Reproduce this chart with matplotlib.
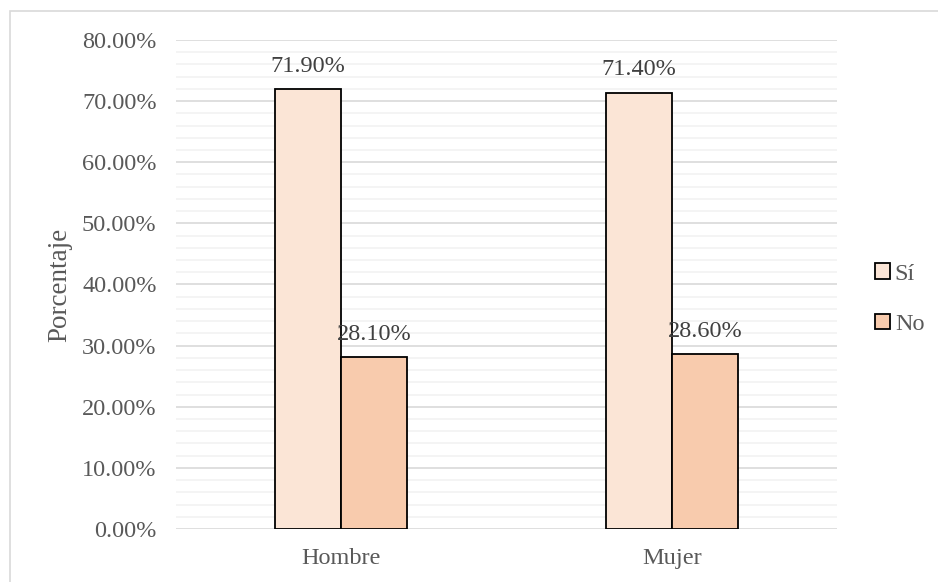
import matplotlib.pyplot as plt
from matplotlib.patches import Rectangle
from matplotlib.ticker import MultipleLocator, FuncFormatter

plt.rcParams['font.family'] = ['Liberation Serif', 'DejaVu Serif']

grupos = ['Hombre', 'Mujer']
series = ['Sí', 'No']
si_vals = [71.9, 71.4]
no_vals = [28.1, 28.6]
colores = ['#FBE5D6', '#F8CBAD']

fig = plt.figure(figsize=(9.38, 5.82), dpi=100)
ax = fig.add_axes([0.1876, 0.0911, 0.7047, 0.8402])

# marco exterior del gráfico
fig.patches.append(Rectangle((10 / 938, -0.05), 1.0, 1 - 11 / 582 + 0.05,
                             transform=fig.transFigure, fill=False,
                             edgecolor='#D9D9D9', linewidth=1.2))

ancho = 0.2
x = range(len(grupos))
b1 = ax.bar([i - ancho / 2 for i in x], si_vals, ancho, color=colores[0],
            edgecolor='black', linewidth=1.3, label=series[0], zorder=3)
b2 = ax.bar([i + ancho / 2 for i in x], no_vals, ancho, color=colores[1],
            edgecolor='black', linewidth=1.3, label=series[1], zorder=3)

for barras in (b1, b2):
    for r in barras:
        h = r.get_height()
        ax.annotate(f'{h:.2f}%', (r.get_x() + r.get_width() / 2, h),
                    xytext=(0, 9), textcoords='offset points',
                    ha='center', va='bottom', fontsize=17.5, color='#404040')

ax.set_xlim(-0.5, 1.5)
ax.set_ylim(0, 80)
ax.set_xticks(list(x))
ax.set_xticklabels(grupos)
ax.yaxis.set_major_locator(MultipleLocator(10))
ax.yaxis.set_minor_locator(MultipleLocator(2))
ax.yaxis.set_major_formatter(FuncFormatter(lambda v, p: f'{v:.2f}%'))
ax.grid(axis='y', which='major', color='#D9D9D9', linewidth=1.2, zorder=0)
ax.grid(axis='y', which='minor', color='#F2F2F2', linewidth=1.2, zorder=0)
ax.tick_params(which='both', length=0, labelsize=17.5, colors='#595959')
ax.tick_params(axis='y', pad=14)
ax.tick_params(axis='x', pad=14)
for s in ax.spines.values():
    s.set_visible(False)
ax.set_axisbelow(True)

ax.set_ylabel('Porcentaje', fontsize=19.5, color='#595959', labelpad=7)

ax.legend(loc='center left', bbox_to_anchor=(1.025, 0.47), frameon=False,
          fontsize=17.5, labelcolor='#595959', handlelength=0.6,
          handleheight=0.6, handletextpad=0.2, labelspacing=1.2)

fig.savefig('out.png', dpi=100)
